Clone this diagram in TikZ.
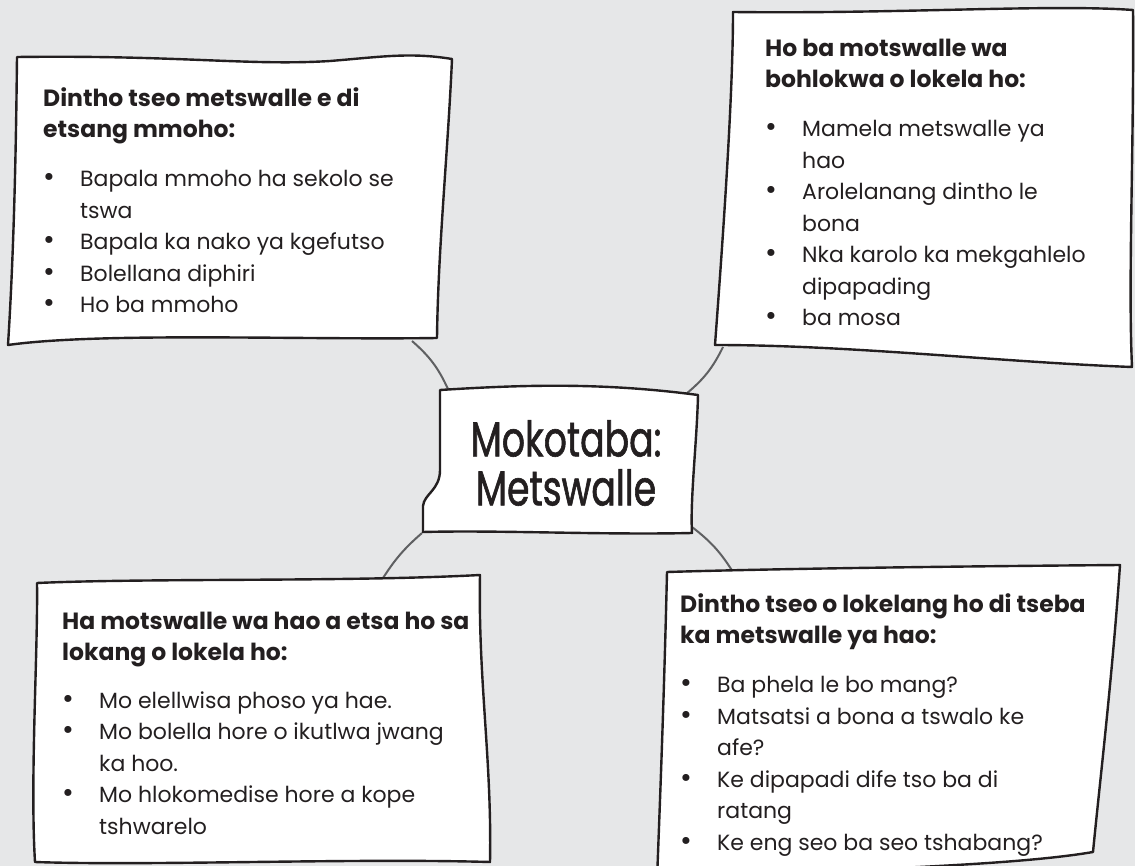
\documentclass[tikz,border=0pt]{standalone}
\usepackage{fontspec}
\setmainfont{Poppins}
\newfontfamily\topicfont{Poppins}[FakeStretch=0.74, FakeBold=1.2]
\usetikzlibrary{positioning}

\definecolor{paper}{HTML}{E6E7E8}
\definecolor{ink}{HTML}{231F20}
\definecolor{twig}{HTML}{5F6062}

\tikzset{
  sketch/.style={draw=ink, fill=white, line width=2.4pt, line join=round, line cap=round},
  link/.style={draw=twig, line width=2pt},
  % multi-line nodes sit on their last baseline
  head/.style={anchor=base west, inner sep=0pt, align=left, text=ink,
    font=\fontsize{23.5}{31}\selectfont\bfseries},
  items/.style={anchor=base west, inner sep=0pt, align=left, text=ink,
    font=\fontsize{22}{31.5}\selectfont},
  topic/.style={inner sep=0pt, align=center, text=ink,
    font=\topicfont\fontsize{49}{49}\selectfont},
}
\newcommand\bul{\makebox[37pt][l]{\scalebox{1.3}{\textbullet}}}
\newcommand\ind{\hspace*{37pt}}

\begin{document}
\begin{tikzpicture}[x=1pt, y=-1pt]
  \fill[paper] (0,0) rectangle (1135,866);
  \useasboundingbox (0,0) rectangle (1135,866);

  % connector ends
  \coordinate (k1) at (412,341);
  \coordinate (m1) at (448,389);
  \coordinate (m2) at (686,394);
  \coordinate (k2) at (723,347);
  \coordinate (m3) at (422,533);
  \coordinate (k3) at (383,578);
  \coordinate (m4) at (692,527);
  \coordinate (k4) at (733,572);

  \draw[link] (k1) to[bend left=12] (m1);
  \draw[link] (m2) to[bend right=12] (k2);
  \draw[link] (m3) to[bend right=8] (k3);
  \draw[link] (m4) to[bend left=10] (k4);

  % paper sheets
  \draw[sketch] (17,57) .. controls (180,55) and (250,66) .. (330,61)
    .. controls (380,57) and (410,52) .. (452,59)
    .. controls (448,150) and (438,250) .. (437,338)
    .. controls (300,340) and (100,332) .. (8,345)
    .. controls (14,250) and (16,150) .. (17,57) -- cycle;
  \draw[sketch] (733,12) .. controls (900,14) and (1050,4) .. (1133,10)
    .. controls (1134,150) and (1128,280) .. (1132,367)
    .. controls (1000,362) and (850,345) .. (715,345)
    .. controls (722,250) and (733,100) .. (733,12) -- cycle;
  \draw[sketch] (440,390) .. controls (520,385) and (600,382) .. (698,395)
    .. controls (697,440) and (690,500) .. (692,533)
    .. controls (600,535) and (500,530) .. (423,532)
    -- (423,506) .. controls (424,494) and (440,490) .. (440,470) -- cycle;
  \draw[sketch] (37,583) .. controls (150,578) and (350,582) .. (480,575)
    .. controls (478,680) and (492,760) .. (490,862)
    .. controls (350,858) and (150,866) .. (35,862)
    .. controls (30,780) and (38,650) .. (37,583) -- cycle;
  \draw[sketch] (667,572) .. controls (800,568) and (1000,566) .. (1120,565)
    .. controls (1112,680) and (1100,780) .. (1093,852)
    .. controls (1000,868) and (800,870) .. (657,880)
    .. controls (660,800) and (664,700) .. (667,572) -- cycle;

  % texts
  \node[topic] (title) at (566,463) {Mokotaba:\\Metswalle};

  \node[head] (h1) at (43,138) {Dintho tseo metswalle e di\\etsang mmoho:};
  \node[items] (l1) at (43,313) {\bul Bapala mmoho ha sekolo se\\\ind tswa\\
    \bul Bapala ka nako ya kgefutso\\\bul Bolellana diphiri\\\bul Ho ba mmoho};

  \node[head] (h2) at (765,88) {Ho ba motswalle wa\\bohlokwa o lokela ho:};
  \node[items] (l2) at (765,326) {\bul Mamela metswalle ya\\\ind hao\\
    \bul Arolelanang dintho le\\\ind bona\\\bul Nka karolo ka mekgahlelo\\
    \ind dipapading\\\bul ba mosa};

  \node[head] (h3) at (62,660) {Ha motswalle wa hao a etsa ho sa\\lokang o lokela ho:};
  \node[items] (l3) at (62,834) {\bul Mo elellwisa phoso ya hae.\\
    \bul Mo bolella hore o ikutlwa jwang\\\ind ka hoo.\\
    \bul Mo hlokomedise hore a kope\\\ind tshwarelo};

  \node[head] (h4) at (680,643) {Dintho tseo o lokelang ho di tseba\\ka metswalle ya hao:};
  \node[items] (l4) at (680,850) {\bul Ba phela le bo mang?\\
    \bul Matsatsi a bona a tswalo ke\\\ind afe?\\
    \bul Ke dipapadi dife tso ba di\\\ind ratang\\
    \bul Ke eng seo ba seo tshabang?};
\end{tikzpicture}
\end{document}
